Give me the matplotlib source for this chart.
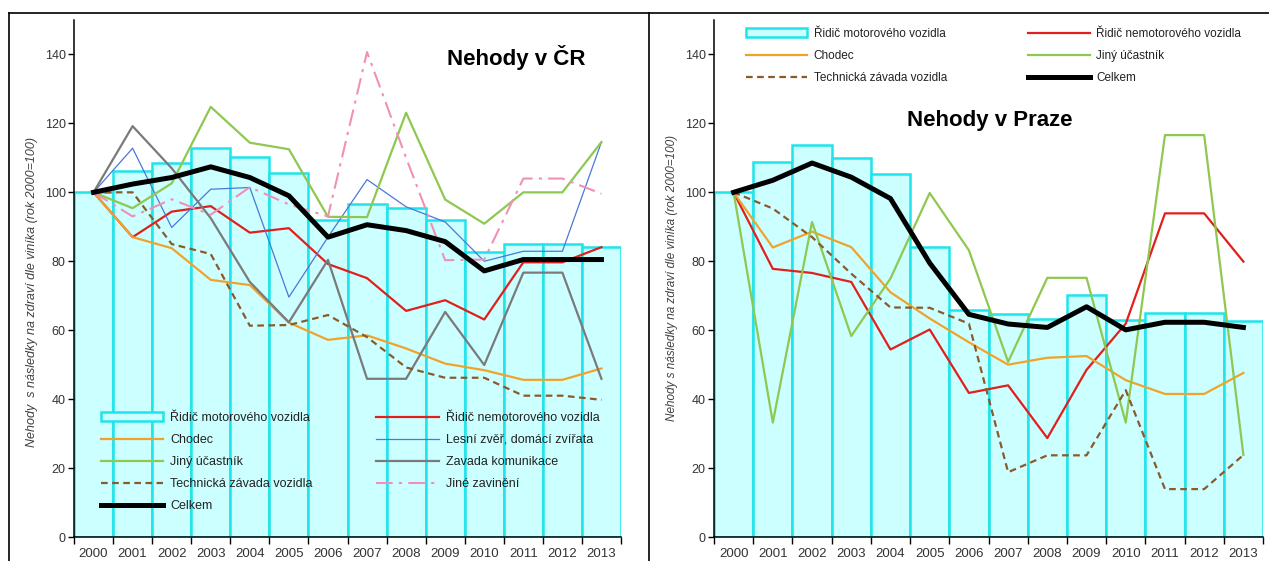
import matplotlib.pyplot as plt
from matplotlib.lines import Line2D

plt.rcParams['font.family'] = ['Liberation Sans', 'DejaVu Sans']

years = ['2000', '2001', '2002', '2003', '2004', '2005', '2006',
         '2007', '2008', '2009', '2010', '2011', '2012', '2013']

# Nehody v CR (rok 2000 = 100)
cr_ridic_mot = [100, 106.3, 108.6, 112.9, 110.3, 105.7, 91.9, 96.5, 95.5, 92.1, 82.8, 84.9, 84.9, 84.0]
cr_nemot = [100, 87.0, 94.4, 96.0, 88.3, 89.6, 79.2, 75.1, 65.6, 68.7, 63.1, 79.7, 79.7, 84.1]
cr_chodec = [100, 87.0, 83.8, 74.6, 73.1, 62.2, 57.2, 58.5, 54.7, 50.3, 48.4, 45.6, 45.6, 48.9]
cr_zver = [100, 112.8, 89.8, 100.9, 101.4, 69.6, 87.0, 103.7, 95.8, 91.4, 80.0, 82.9, 82.9, 114.6]
cr_jiny = [100, 95.4, 102.6, 124.8, 114.4, 112.5, 92.9, 92.8, 123.1, 97.9, 90.9, 100.0, 100.0, 114.6]
cr_komunikace = [100, 119.2, 107.0, 92.5, 74.0, 62.3, 80.4, 45.9, 45.9, 65.3, 49.9, 76.7, 76.7, 45.9]
cr_technicka = [100, 100.0, 85.0, 82.1, 61.3, 61.5, 64.4, 58.0, 49.2, 46.2, 46.2, 41.0, 41.0, 39.8]
cr_jine = [100, 93.0, 98.0, 93.5, 101.5, 96.5, 93.0, 140.7, 110.0, 80.3, 80.5, 104.0, 104.0, 99.6]
cr_celkem = [100, 102.4, 104.3, 107.4, 104.3, 99.0, 87.0, 90.6, 88.9, 85.7, 77.2, 80.5, 80.5, 80.5]

# Nehody v Praze (rok 2000 = 100)
pr_ridic_mot = [100, 108.7, 113.6, 110.1, 105.4, 84.1, 65.9, 64.6, 63.3, 70.1, 63.1, 65.0, 65.0, 62.6]
pr_nemot = [100, 77.8, 76.6, 74.0, 54.4, 60.2, 41.8, 44.0, 28.7, 48.5, 61.9, 93.9, 93.9, 79.9]
pr_chodec = [100, 84.0, 88.6, 84.1, 71.0, 63.4, 56.5, 50.0, 52.0, 52.5, 45.5, 41.5, 41.5, 47.6]
pr_jiny = [100, 33.2, 91.4, 58.3, 75.0, 99.8, 83.2, 50.8, 75.2, 75.2, 33.2, 116.6, 116.6, 23.8]
pr_technicka = [100, 95.3, 87.0, 76.4, 66.6, 66.5, 61.9, 18.8, 23.7, 23.7, 42.6, 13.9, 13.9, 23.8]
pr_celkem = [100, 103.5, 108.5, 104.4, 98.2, 79.5, 64.6, 61.8, 60.8, 66.8, 60.1, 62.3, 62.3, 60.8]

x = list(range(len(years)))

BAR_FACE = '#ccffff'
BAR_EDGE = '#1ee4ec'
TXT = '#333333'

sty = {
    'nemot': dict(color='#e0201c', lw=1.6),
    'chodec': dict(color='#f0a32c', lw=1.6),
    'jiny': dict(color='#8fc850', lw=1.6),
    'zver': dict(color='#4a78d8', lw=0.9),
    'komunikace': dict(color='#7a7a7a', lw=1.6),
    'technicka': dict(color='#8b5a2b', lw=1.6, ls=(0, (3, 2))),
    'jine': dict(color='#f090b8', lw=1.5, ls=(0, (8, 3, 1.5, 3))),
    'celkem': dict(color='black', lw=3.6),
}


def setup_axes(ax):
    ax.set_xlim(-0.5, 13.5)
    ax.set_ylim(0, 150)
    ax.set_yticks(range(0, 141, 20))
    ax.set_xticks(x)
    ax.set_xticklabels(years)
    ax.set_xticks([i - 0.5 for i in range(15)], minor=True)
    ax.tick_params(axis='x', which='major', length=0, pad=8, labelsize=9.5, labelcolor=TXT)
    ax.tick_params(axis='x', which='minor', length=5, width=1, color='black')
    ax.tick_params(axis='y', length=4, width=1, pad=2, labelsize=9, labelcolor=TXT)
    for s in ['top', 'right']:
        ax.spines[s].set_visible(False)
    for s in ['left', 'bottom']:
        ax.spines[s].set_linewidth(1.1)
    ax.patch.set_alpha(0)


fig = plt.figure(figsize=(12.69, 5.61), dpi=100)
ax1 = fig.add_axes([74 / 1269, 24 / 561, 547 / 1269, 517 / 561])
ax2 = fig.add_axes([714 / 1269, 24 / 561, 549 / 1269, 517 / 561])

# --- left: Nehody v CR
setup_axes(ax1)
b1 = ax1.bar(x, cr_ridic_mot, width=1, color=BAR_FACE, edgecolor=BAR_EDGE, linewidth=1.8,
             label='Řidič motorového vozidla', zorder=1)
h_nemot, = ax1.plot(x, cr_nemot, label='Řidič nemotorového vozidla', zorder=3, **sty['nemot'])
h_chodec, = ax1.plot(x, cr_chodec, label='Chodec', zorder=3, **sty['chodec'])
h_zver, = ax1.plot(x, cr_zver, label='Lesní zvěř, domácí zvířata', zorder=3, **sty['zver'])
h_jiny, = ax1.plot(x, cr_jiny, label='Jiný účastník', zorder=3, **sty['jiny'])
h_kom, = ax1.plot(x, cr_komunikace, label='Zavada komunikace', zorder=3, **sty['komunikace'])
h_tech, = ax1.plot(x, cr_technicka, label='Technická závada vozidla', zorder=3, **sty['technicka'])
h_jine, = ax1.plot(x, cr_jine, label='Jiné zavinění', zorder=3, **sty['jine'])
h_cel, = ax1.plot(x, cr_celkem, label='Celkem', zorder=4, **sty['celkem'])

ax1.legend(handles=[b1, h_chodec, h_jiny, h_tech, h_cel, h_nemot, h_zver, h_kom, h_jine],
           ncol=2, loc='upper left', bbox_to_anchor=(0.049, 0.242), frameon=False,
           fontsize=9, handlelength=5, handletextpad=0.55, columnspacing=5.1,
           labelspacing=0.8, borderpad=0, borderaxespad=0, labelcolor='#222222')
ax1.text(0.808, 0.928, 'Nehody v ČR', transform=ax1.transAxes, ha='center', va='center',
         fontsize=16, fontweight='bold')

# --- right: Nehody v Praze
setup_axes(ax2)
b2 = ax2.bar(x, pr_ridic_mot, width=1, color=BAR_FACE, edgecolor=BAR_EDGE, linewidth=1.8,
             label='Řidič motorového vozidla', zorder=1)
p_nemot, = ax2.plot(x, pr_nemot, label='Řidič nemotorového vozidla', zorder=3, **sty['nemot'])
p_chodec, = ax2.plot(x, pr_chodec, label='Chodec', zorder=3, **sty['chodec'])
p_jiny, = ax2.plot(x, pr_jiny, label='Jiný účastník', zorder=3, **sty['jiny'])
p_tech, = ax2.plot(x, pr_technicka, label='Technická závada vozidla', zorder=3, **sty['technicka'])
p_cel, = ax2.plot(x, pr_celkem, label='Celkem', zorder=4, **sty['celkem'])

ax2.legend(handles=[b2, p_chodec, p_tech, p_nemot, p_jiny, p_cel],
           ncol=2, loc='upper left', bbox_to_anchor=(0.058, 0.985), frameon=False,
           fontsize=8.5, handlelength=5.2, handletextpad=0.55, columnspacing=6.9,
           labelspacing=0.85, borderpad=0, borderaxespad=0, labelcolor='#222222')
ax2.text(0.503, 0.805, 'Nehody v Praze', transform=ax2.transAxes, ha='center', va='center',
         fontsize=16, fontweight='bold')

# y labels
fig.text(32 / 1269, 1 - 292 / 561, 'Nehody  s následky na zdraví dle viníka (rok 2000=100)',
         rotation=90, style='italic', fontsize=9, color='#404040', ha='center', va='center')
fig.text(672 / 1269, 1 - 278 / 561, 'Nehody s následky na zdraví dle viníka (rok 2000=100)',
         rotation=90, style='italic', fontsize=8.5, color='#404040', ha='center', va='center')

# frame around the two panels
for xs, ys in [([9 / 1269, 1], [1 - 13 / 561, 1 - 13 / 561]),
               ([9 / 1269, 9 / 1269], [0, 1 - 13 / 561]),
               ([649 / 1269, 649 / 1269], [0, 1 - 13 / 561])]:
    fig.add_artist(Line2D(xs, ys, transform=fig.transFigure, color='black', lw=1.2))

fig.savefig('out.png', dpi=100)
